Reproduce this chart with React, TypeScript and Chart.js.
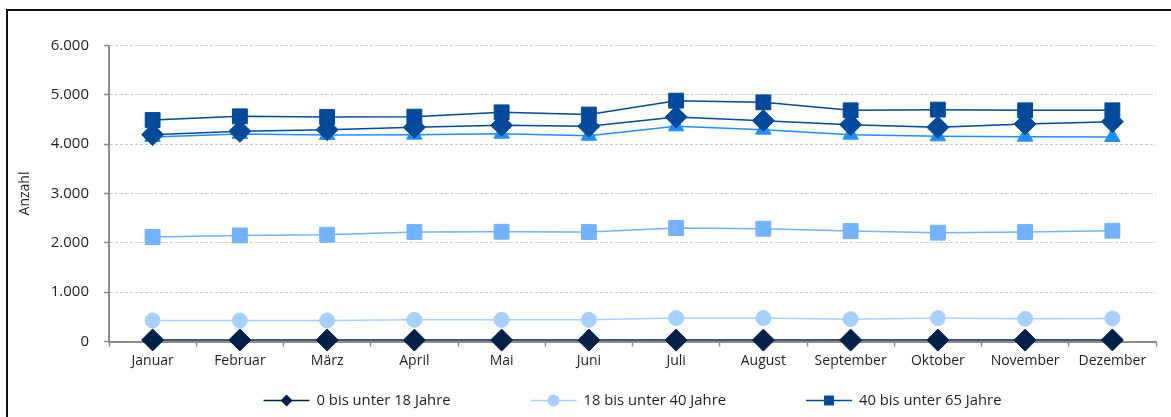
import React, { useEffect, useRef } from 'react';
import { Chart, registerables } from 'chart.js';
import { drawPoint } from 'chart.js/helpers';

Chart.register(...registerables);

const months = ['Januar', 'Februar', 'März', 'April', 'Mai', 'Juni', 'Juli', 'August', 'September', 'Oktober', 'November', 'Dezember'];

const labels0to18 = '0 bis unter 18 Jahre';
const labels18to40 = '18 bis unter 40 Jahre';
const labels40to65 = '40 bis unter 65 Jahre';
const labelsSeries4 = '65 bis unter 80 Jahre';
const labelsSeries5 = '80 Jahre und älter';
const labelsSeries6 = 'Durchschnitt';

const values0to18 = [32, 32, 30, 28, 28, 28, 28, 28, 28, 28, 28, 32];
const values18to40 = [426, 426, 426, 440, 440, 440, 474, 474, 453, 474, 460, 467];
const values40to65 = [4490, 4564, 4550, 4558, 4645, 4600, 4882, 4848, 4686, 4700, 4686, 4686];
const valuesSeries4 = [2118, 2150, 2164, 2219, 2225, 2219, 2300, 2286, 2239, 2205, 2219, 2245];
const valuesSeries5 = [4146, 4207, 4187, 4193, 4213, 4172, 4361, 4294, 4193, 4159, 4152, 4145];
const valuesSeries6 = [4193, 4260, 4294, 4341, 4381, 4361, 4551, 4477, 4395, 4341, 4409, 4456];

const yMin = 0;
const yMax = 6000;
const yStep = 1000;

const FONT = '"Open Sans", sans-serif';

const fmt = (v: number) => String(Math.round(v)).replace(/\B(?=(\d{3})+(?!\d))/g, '.');

const legendRadii = [6, 6, 7];

const legendPlugin = {
  id: 'customLegend',
  afterDraw(chart: any) {
    const ctx = chart.ctx as CanvasRenderingContext2D;
    const items = chart.data.datasets.slice(0, 3);
    ctx.save();
    ctx.font = `14.8px ${FONT}`;
    const lineLen = 46;
    const gap = 7;
    const spacing = 80;
    const widths = items.map((d: any) => lineLen + gap + ctx.measureText(d.label).width);
    const total = widths.reduce((a: number, b: number) => a + b, 0) + spacing * (items.length - 1);
    const cx = (chart.chartArea.left + chart.chartArea.right) / 2;
    let x = cx - total / 2;
    const y = 400.5;
    items.forEach((d: any, i: number) => {
      ctx.strokeStyle = d.borderColor;
      ctx.lineWidth = 1.5;
      ctx.beginPath();
      ctx.moveTo(x, y);
      ctx.lineTo(x + lineLen, y);
      ctx.stroke();
      ctx.fillStyle = d.pointBackgroundColor;
      ctx.strokeStyle = d.pointBackgroundColor;
      drawPoint(ctx, { pointStyle: d.pointStyle, radius: legendRadii[i], borderWidth: 0, rotation: 0 } as any, x + lineLen / 2, y);
      ctx.fillStyle = '#1e1e1e';
      ctx.textBaseline = 'middle';
      ctx.textAlign = 'left';
      ctx.fillText(d.label, x + lineLen + gap, y);
      x += widths[i] + spacing;
    });
    ctx.restore();
  },
};

function ds(label: string, data: number[], color: string, style: string, radius: number, order: number) {
  return {
    label,
    data,
    borderColor: color,
    backgroundColor: color,
    pointBackgroundColor: color,
    pointBorderColor: color,
    pointBorderWidth: 1,
    pointStyle: style,
    pointRadius: radius,
    borderWidth: 1.5,
    tension: 0,
    order,
    clip: false,
  };
}

export default function App() {
  const ref = useRef<HTMLCanvasElement>(null);

  useEffect(() => {
    if (!ref.current) return;
    const chart = new Chart(ref.current, {
      type: 'line',
      data: {
        labels: months,
        datasets: [
          ds(labels0to18, values0to18, '#00204a', 'rectRot', 11, 1),
          ds(labels18to40, values18to40, '#a8d0ff', 'circle', 7.5, 2),
          ds(labels40to65, values40to65, '#004a9b', 'rect', 10.5, 5),
          ds(labelsSeries4, valuesSeries4, '#72b3ff', 'rect', 10.5, 3),
          ds(labelsSeries5, valuesSeries5, '#1f8fff', 'triangle', 9, 6),
          ds(labelsSeries6, valuesSeries6, '#004a9b', 'rectRot', 11, 4),
        ] as any,
      },
      options: {
        animation: false,
        responsive: false,
        maintainAspectRatio: false,
        layout: { padding: { top: 45.5, right: 15, left: 0, bottom: 0 } },
        plugins: {
          legend: { display: false },
          tooltip: { enabled: false },
        },
        scales: {
          x: {
            offset: true,
            grid: {
              offset: true,
              drawOnChartArea: false,
              drawTicks: true,
              tickLength: 5,
              tickColor: '#8c8c8c',
              tickWidth: 1.5,
            },
            border: { display: true, color: '#8c8c8c', width: 2 },
            ticks: {
              color: '#1e1e1e',
              font: { family: FONT, size: 14 },
              padding: 6,
              maxRotation: 0,
              autoSkip: false,
            },
            afterFit: (s: any) => { s.height = 75.5; },
          },
          y: {
            min: yMin,
            max: yMax,
            ticks: {
              stepSize: yStep,
              color: '#1e1e1e',
              font: { family: FONT, size: 15 },
              padding: 15,
              callback: (v: any) => fmt(Number(v)),
            },
            grid: {
              color: '#c8c8c8',
              lineWidth: 1,
              tickLength: 5,
              tickColor: '#8c8c8c',
              tickWidth: 1.5,
              tickBorderDash: [],
            },
            border: { display: true, color: '#8c8c8c', width: 2, dash: [3, 2] },
            title: {
              display: true,
              text: 'Anzahl',
              color: '#1e1e1e',
              font: { family: FONT, size: 14 },
              padding: { top: 17, bottom: 4 },
            },
            afterFit: (s: any) => { s.width = 109; },
          },
        },
      },
      plugins: [legendPlugin],
    });
    return () => chart.destroy();
  }, []);

  return (
    <div style={{ position: 'fixed', left: 0, top: 0, width: 1171, height: 417, overflow: 'hidden', background: '#fff' }}>
      <div style={{ position: 'absolute', left: 5.5, top: 9, width: 1300, height: 600, border: '2px solid #111' }} />
      <canvas ref={ref} width={1171} height={417} style={{ position: 'absolute', left: 0, top: 0, width: 1171, height: 417 }} />
    </div>
  );
}
